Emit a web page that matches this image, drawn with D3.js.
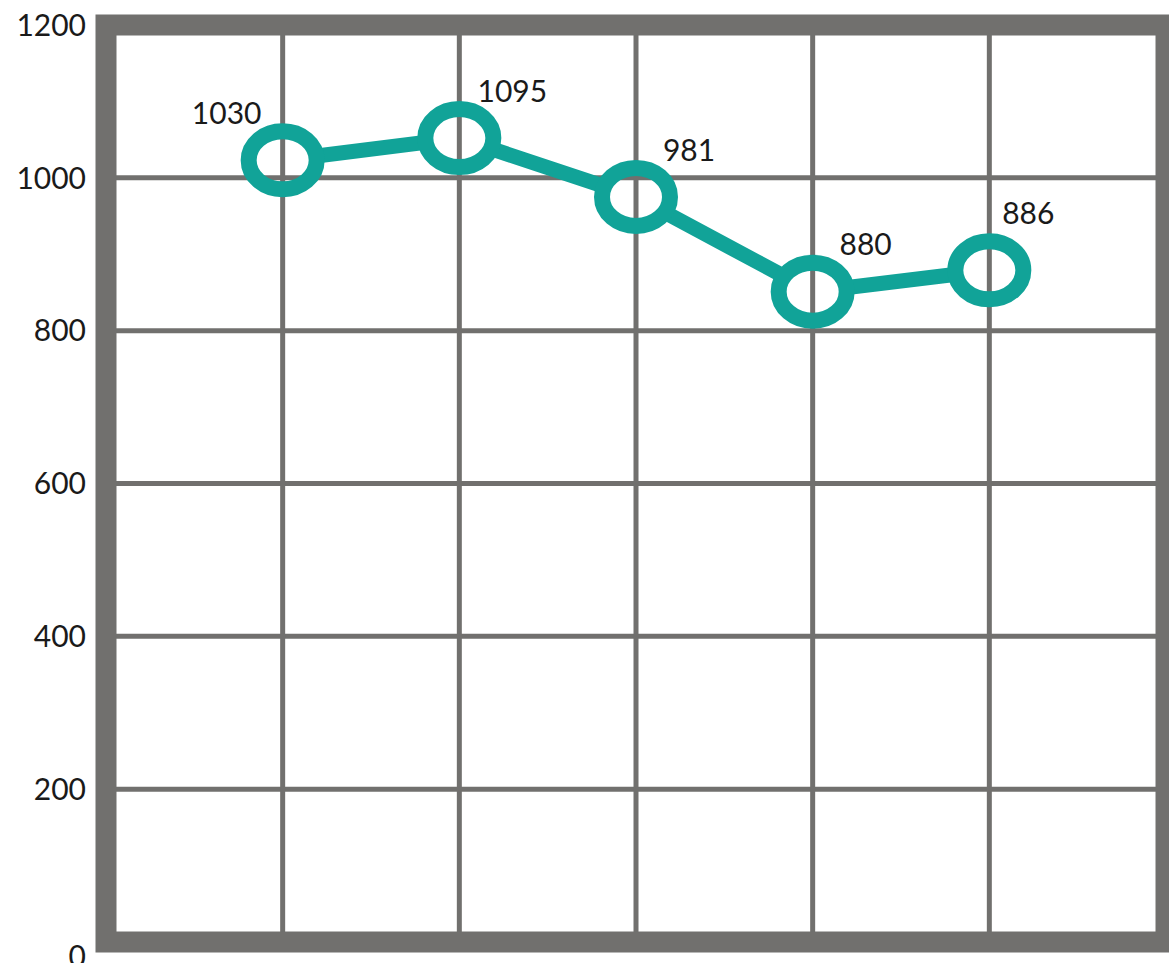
<!DOCTYPE html>
<html>
<head>
<meta charset="utf-8">
<script src="https://cdn.jsdelivr.net/npm/d3@7"></script>
<style>
  body { margin: 0; background: #fff; }
  text { font-family: Lato, "Open Sans", sans-serif; fill: #1a1a1a; }
</style>
</head>
<body>
<div id="chart"></div>
<script>
// values as plotted (the labels on the chart differ a little from the drawn points)
const positions = [1, 2, 3, 4, 5];
const values = [1023, 1052, 975, 851, 879];
const labels = ["1030", "1095", "981", "880", "886"];
const yTicks = [0, 200, 400, 600, 800, 1000, 1200];

const width = 1169, height = 963;
const teal = "#11a398", gray = "#71706e";

const svg = d3.select("#chart")
  .append("svg")
    .attr("width", width)
    .attr("height", height);

const x = d3.scaleLinear()
    .domain([0, 6])
    .range([106, 1166]);

const y = d3.scaleLinear()
    .domain([0, 1200])
    .range([942, 25]);

// grid
svg.selectAll(".hgrid")
  .data(yTicks.slice(1, -1))
  .enter()
  .append("line")
    .attr("x1", x(0)).attr("x2", x(6))
    .attr("y1", d => y(d)).attr("y2", d => y(d))
    .attr("stroke", gray)
    .attr("stroke-width", 5);

svg.selectAll(".vgrid")
  .data(positions)
  .enter()
  .append("line")
    .attr("x1", d => x(d)).attr("x2", d => x(d))
    .attr("y1", y(1200)).attr("y2", y(0))
    .attr("stroke", gray)
    .attr("stroke-width", 5);

// frame
svg.append("rect")
    .attr("x", x(0))
    .attr("y", y(1200))
    .attr("width", x(6) - x(0))
    .attr("height", y(0) - y(1200))
    .attr("fill", "none")
    .attr("stroke", gray)
    .attr("stroke-width", 21);

// y labels
svg.selectAll(".ylab")
  .data(yTicks)
  .enter()
  .append("text")
    .attr("x", 86)
    .attr("y", d => d === 0 ? y(d) + 14 : y(d))
    .attr("dy", "0.36em")
    .attr("text-anchor", "end")
    .style("font-size", "30px")
    .text(d => d);

const data = positions.map((p, i) => ({p: p, v: values[i], label: labels[i]}));
const rx = 34, ry = 29;

// hide the line inside the rings
const mask = svg.append("defs").append("mask").attr("id", "holes");
mask.append("rect").attr("width", width).attr("height", height).attr("fill", "white");
mask.selectAll("ellipse")
  .data(data)
  .enter()
  .append("ellipse")
    .attr("cx", d => x(d.p))
    .attr("cy", d => y(d.v))
    .attr("rx", rx)
    .attr("ry", ry)
    .attr("fill", "black");

svg.append("path")
    .datum(data)
    .attr("d", d3.line().x(d => x(d.p)).y(d => y(d.v)))
    .attr("fill", "none")
    .attr("stroke", teal)
    .attr("stroke-width", 15)
    .attr("mask", "url(#holes)");

svg.selectAll(".ring")
  .data(data)
  .enter()
  .append("ellipse")
    .attr("cx", d => x(d.p))
    .attr("cy", d => y(d.v))
    .attr("rx", rx)
    .attr("ry", ry)
    .attr("fill", "none")
    .attr("stroke", teal)
    .attr("stroke-width", 16);

// value labels, first one sits to the left of its point
svg.selectAll(".vlab")
  .data(data)
  .enter()
  .append("text")
    .attr("x", (d, i) => x(d.p) + (i === 0 ? -56 : i === 4 ? 39 : 53))
    .attr("y", (d, i) => y(d.v) - (i === 4 ? 57 : 47))
    .attr("dy", "0.36em")
    .attr("text-anchor", "middle")
    .style("font-size", "30px")
    .text(d => d.label);
</script>
</body>
</html>
